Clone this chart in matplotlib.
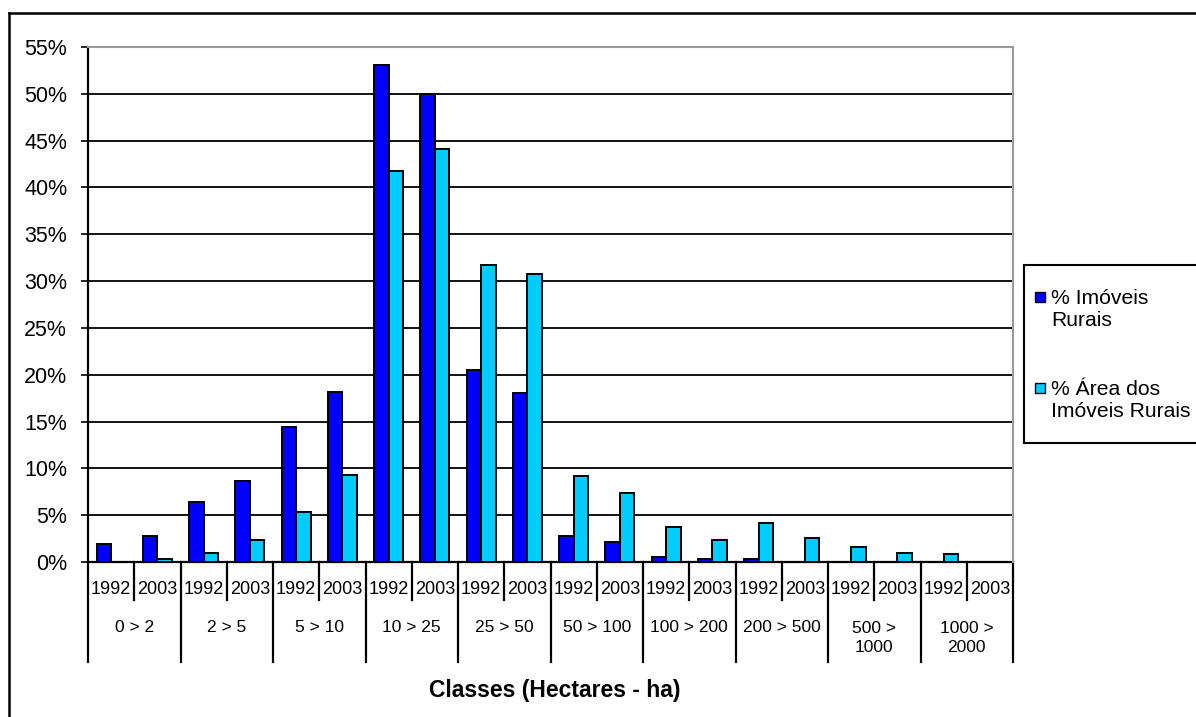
import numpy as np
import matplotlib
matplotlib.use('Agg')
import matplotlib.pyplot as plt
from matplotlib.patches import Rectangle
from matplotlib.lines import Line2D
from matplotlib.ticker import FuncFormatter

plt.rcParams['font.family'] = ['Liberation Sans', 'DejaVu Sans']

# Classes de área e anos
classes = ['0 > 2', '2 > 5', '5 > 10', '10 > 25', '25 > 50', '50 > 100',
           '100 > 200', '200 > 500', '500 >\n1000', '1000 >\n2000']
anos = ['1992', '2003']

# Percentuais por classe/ano (1992, 2003, 1992, 2003, ...)
pct_imoveis = [1.9, 2.8, 6.4, 8.6, 14.4, 18.2, 53.1, 50.0, 20.5, 18.0,
               2.8, 2.1, 0.5, 0.3, 0.35, 0.0, 0.0, 0.0, 0.0, 0.0]
pct_area = [0.0, 0.35, 1.0, 2.3, 5.3, 9.25, 41.8, 44.1, 31.7, 30.8,
            9.2, 7.4, 3.7, 2.3, 4.2, 2.6, 1.6, 1.0, 0.85, 0.0]

rotulos_legenda = ['% Imóveis\nRurais', '% Área dos\nImóveis Rurais']
cor_imoveis = '#0000FF'
cor_area = '#00CCFF'

fig = plt.figure(figsize=(11.96, 7.17), dpi=100)
W, H = 1196, 717
ax = fig.add_axes([88 / W, 1 - 562 / H, (1013 - 88) / W, (562 - 47) / H])

n = len(pct_imoveis)
x = np.arange(n)
larg = 0.316
ax.bar(x - larg / 2, pct_imoveis, larg, color=cor_imoveis, edgecolor='black', linewidth=1.4, zorder=3)
ax.bar(x + larg / 2, pct_area, larg, color=cor_area, edgecolor='black', linewidth=1.4, zorder=3)

ax.set_xlim(-0.5, n - 0.5)
ax.set_ylim(0, 55)
ax.set_yticks(np.arange(0, 56, 5))
ax.yaxis.set_major_formatter(FuncFormatter(lambda v, p: f'{v:.0f}%'))
ax.tick_params(axis='y', length=5, width=1.2, pad=10, labelsize=15.5)
ax.set_xticks([])
ax.grid(axis='y', color='black', linewidth=1.3, zorder=1)
ax.set_axisbelow(True)

for lado in ['top', 'right']:
    ax.spines[lado].set_color('#999999')
    ax.spines[lado].set_linewidth(1.5)
    ax.spines[lado].set_zorder(4)
for lado in ['left', 'bottom']:
    ax.spines[lado].set_color('black')
    ax.spines[lado].set_linewidth(1.6)

# Eixo x em dois níveis: anos e classes
tr = ax.get_xaxis_transform()
y_sep_ano = (562 - 600) / 515
y_sep_classe = (562 - 662) / 515
for i in range(n):
    ax.text(i, (562 - 590) / 515, anos[i % 2], transform=tr, ha='center', va='center', fontsize=13)
    if i % 2 == 1:
        ax.plot([i - 0.5, i - 0.5], [0, y_sep_ano], transform=tr, color='black', lw=1.6, clip_on=False)
for g in range(len(classes) + 1):
    xs = 2 * g - 0.5
    ax.plot([xs, xs], [0, y_sep_classe], transform=tr, color='black', lw=1.6, clip_on=False)
for g, nome in enumerate(classes):
    if '\n' in nome:
        ax.text(2 * g + 0.5, (562 - 638) / 515, nome, transform=tr, ha='center', va='center',
                fontsize=12.5, linespacing=1.35)
    else:
        ax.text(2 * g + 0.5, (562 - 627) / 515, nome, transform=tr, ha='center', va='center', fontsize=12.5)

ax.text(0.505, (562 - 690) / 515, 'Classes (Hectares - ha)', transform=ax.transAxes,
        ha='center', va='center', fontsize=16.5, fontweight='bold')

# Legenda desenhada à mão (caixa cortada na borda direita)
fig.patches.append(Rectangle((1024 / W, 1 - 443 / H), 200 / W, (443 - 265) / H,
                             transform=fig.transFigure, facecolor='white', edgecolor='black', lw=1.5))
for cor, rot, yq in [(cor_imoveis, rotulos_legenda[0], 297), (cor_area, rotulos_legenda[1], 388)]:
    fig.patches.append(Rectangle((1035 / W, 1 - (yq + 5) / H), 10 / W, 10 / H,
                                 transform=fig.transFigure, facecolor=cor, edgecolor='black', lw=1))
    fig.text(1051 / W, 1 - (yq - 8) / H, rot, ha='left', va='top', fontsize=15.2, linespacing=1.2)

# Moldura externa (topo e lado esquerdo)
fig.lines.append(Line2D([9 / W, 9 / W], [0, 1 - 13 / H], transform=fig.transFigure, color='black', lw=1.8))
fig.lines.append(Line2D([9 / W, 1], [1 - 13 / H, 1 - 13 / H], transform=fig.transFigure, color='black', lw=1.8))

fig.savefig('out.png', dpi=100)
